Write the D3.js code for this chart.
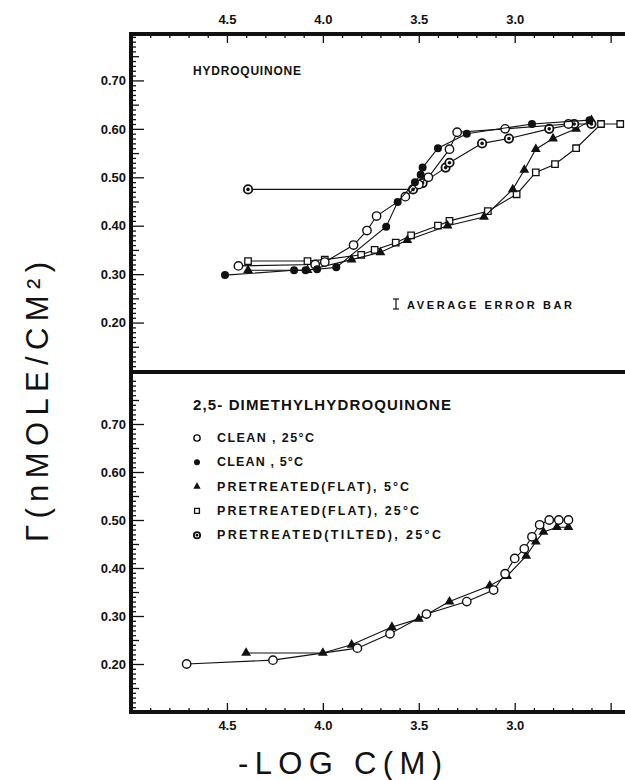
<!DOCTYPE html>
<html>
<head>
<meta charset="utf-8">
<script src="https://cdn.jsdelivr.net/npm/d3@7"></script>
<style>
  body { margin: 0; background: #fff; }
  text { font-family: "Liberation Sans", Arial, sans-serif; fill: #111; }
</style>
</head>
<body>
<div id="chart"></div>
<script>
// ---- data (x = -log C(M), y = surface excess in nmol/cm2) ----
// Hydroquinone panel
const hqClean25 = [[4.44,0.317],[4.04,0.320],[3.99,0.325],[3.84,0.360],[3.77,0.390],[3.72,0.420],[3.57,0.460],[3.50,0.485],[3.45,0.500],[3.34,0.558],[3.30,0.593],[3.05,0.600],[2.72,0.610]];
const hqClean5 = [[4.51,0.298],[4.15,0.308],[4.09,0.308],[4.03,0.310],[3.93,0.314],[3.67,0.398],[3.61,0.449],[3.52,0.490],[3.49,0.505],[3.48,0.520],[3.40,0.560],[3.25,0.590],[2.91,0.610],[2.61,0.618]];
const hqFlat5 = [[4.39,0.308],[4.08,0.308],[3.85,0.330],[3.70,0.345],[3.56,0.370],[3.35,0.400],[3.16,0.418],[3.01,0.475],[2.95,0.515],[2.89,0.558],[2.80,0.580],[2.68,0.600],[2.60,0.618]];
const hqFlat25 = [[4.39,0.327],[4.08,0.327],[3.99,0.330],[3.80,0.340],[3.73,0.350],[3.62,0.365],[3.54,0.380],[3.40,0.400],[3.34,0.410],[3.14,0.430],[2.99,0.465],[2.89,0.510],[2.79,0.527],[2.68,0.560],[2.55,0.610],[2.45,0.610]];
const hqTilted25 = [[4.39,0.475],[3.53,0.475],[3.48,0.488],[3.36,0.520],[3.34,0.530],[3.17,0.570],[3.03,0.580],[2.82,0.600],[2.69,0.610],[2.60,0.610]];

// 2,5-dimethylhydroquinone panel
const dmClean25 = [[4.71,0.200],[4.26,0.208],[3.82,0.233],[3.65,0.263],[3.46,0.304],[3.25,0.330],[3.11,0.354],[3.05,0.388],[3.00,0.420],[2.95,0.440],[2.91,0.465],[2.87,0.490],[2.82,0.500],[2.77,0.500],[2.72,0.500]];
const dmFlat5 = [[4.40,0.223],[4.00,0.223],[3.85,0.240],[3.64,0.277],[3.50,0.294],[3.34,0.330],[3.13,0.363],[3.04,0.383],[2.94,0.425],[2.89,0.455],[2.85,0.475],[2.78,0.485],[2.72,0.485]];

const xLabels = [4.5, 4.0, 3.5, 3.0];
const yLabels = [0.20, 0.30, 0.40, 0.50, 0.60, 0.70];
const legendItems = ["CLEAN , 25°C", "CLEAN , 5°C", "PRETREATED(FLAT), 5°C", "PRETREATED(FLAT), 25°C", "PRETREATED(TILTED), 25°C"];
const legendWidths = [97, 86, 192, 202, 224];
const legendMarks = ["open", "filled", "tri", "square", "tilted"];

// ---- layout ----
const W = 625, H = 780;
const svg = d3.select("#chart").append("svg")
    .attr("width", W)
    .attr("height", H);

const x = d3.scaleLinear().domain([5.0, 2.3]).range([131, 649]);
const yTop = d3.scaleLinear().domain([0.10, 0.80]).range([371, 32]);
const yBot = d3.scaleLinear().domain([0.10, 0.80]).range([712, 376]);

// ---- ticks ----
function yTicks(y) {
    const g = svg.append("g").attr("transform", "translate(131,0)");
    const minor = d3.range(11, 80).map(d => d / 100);
    g.append("g").call(d3.axisRight(y).tickValues(minor.filter(d => Math.round(d * 100) % 5 !== 0)).tickSize(5).tickFormat(""));
    g.append("g").call(d3.axisRight(y).tickValues([0.15, 0.25, 0.35, 0.45, 0.55, 0.65, 0.75]).tickSize(8).tickFormat(""));
    g.append("g").call(d3.axisLeft(y).tickValues(yLabels).tickSizeInner(-13).tickSizeOuter(0).tickPadding(5).tickFormat(d3.format(".2f")));
    g.selectAll(".domain").remove();
    g.selectAll("line").attr("stroke", "#111").attr("stroke-width", 1.3);
    g.selectAll("text").style("font-size", "13px").style("font-weight", "bold");
}
yTicks(yTop);
yTicks(yBot);

function xTicks(ypos, top) {
    const g = svg.append("g").attr("transform", `translate(0,${ypos})`);
    const axis = top ? d3.axisTop : d3.axisBottom;
    const minor = d3.range(24, 50).filter(d => d % 5 !== 0).map(d => d / 10);
    g.append("g").call(axis(x).tickValues(minor).tickSize(-4).tickFormat(""));
    g.append("g").call(axis(x).tickValues([...xLabels, 2.5]).tickSizeInner(-9).tickSizeOuter(0).tickPadding(top ? 10 : 9)
        .tickFormat(d => xLabels.includes(d) ? d3.format(".1f")(d) : ""));
    g.selectAll(".domain").remove();
    g.selectAll("line").attr("stroke", "#111").attr("stroke-width", 1.3);
    g.selectAll("text").style("font-size", "13px").style("font-weight", "bold");
}
xTicks(34, true);
xTicks(712, false);

// ---- series ----
const line = y => d3.line().x(d => x(d[0])).y(d => y(d[1]));

function drawMarks(sel, kind, px, py, s) {
    s = s || 1;
    if (kind === "open") {
        sel.append("circle").attr("cx", px).attr("cy", py).attr("r", 4.2 * s)
            .attr("fill", "#fff").attr("stroke", "#111").attr("stroke-width", 1.4);
    } else if (kind === "filled") {
        sel.append("circle").attr("cx", px).attr("cy", py).attr("r", 4 * s).attr("fill", "#111");
    } else if (kind === "tri") {
        sel.append("path").attr("transform", `translate(${px},${py})`)
            .attr("d", d3.symbol(d3.symbolTriangle, 42 * s * s)).attr("fill", "#111");
    } else if (kind === "square") {
        sel.append("path").attr("transform", `translate(${px},${py})`)
            .attr("d", d3.symbol(d3.symbolSquare, 42 * s * s))
            .attr("fill", "#fff").attr("stroke", "#111").attr("stroke-width", 1.3);
    } else if (kind === "tilted") {
        sel.append("circle").attr("cx", px).attr("cy", py).attr("r", 4.2 * s)
            .attr("fill", "#fff").attr("stroke", "#111").attr("stroke-width", 1.8);
        sel.append("circle").attr("cx", px).attr("cy", py).attr("r", 1.8 * s).attr("fill", "#111");
    }
}

function series(data, y, kind) {
    svg.append("path").datum(data)
        .attr("fill", "none").attr("stroke", "#111").attr("stroke-width", 1.1)
        .attr("d", line(y));
    const g = svg.append("g");
    data.forEach(d => drawMarks(g, kind, x(d[0]), y(d[1])));
}

series(hqFlat25, yTop, "square");
series(hqFlat5, yTop, "tri");
series(hqTilted25, yTop, "tilted");
series(hqClean25, yTop, "open");
series(hqClean5, yTop, "filled");

series(dmFlat5, yBot, "tri");
series(dmClean25, yBot, "open");

// ---- frame ----
const frame = svg.append("g").attr("stroke", "#111").attr("stroke-width", 4);
frame.append("line").attr("x1", 131).attr("x2", 131).attr("y1", 32).attr("y2", 714);
frame.append("line").attr("x1", 129).attr("x2", W).attr("y1", 34).attr("y2", 34);
frame.append("line").attr("x1", 131).attr("x2", W).attr("y1", 372).attr("y2", 372);
frame.append("line").attr("x1", 129).attr("x2", W).attr("y1", 712).attr("y2", 712);

// ---- texts ----
svg.append("text").attr("x", 193).attr("y", 75)
    .attr("textLength", 108).attr("lengthAdjust", "spacing")
    .style("font-size", "12px").style("font-weight", "bold")
    .text("HYDROQUINONE");

svg.append("text").attr("x", 193).attr("y", 410)
    .attr("textLength", 258).attr("lengthAdjust", "spacing")
    .style("font-size", "15px").style("font-weight", "bold")
    .text("2,5- DIMETHYLHYDROQUINONE");

legendItems.forEach((t, i) => {
    const yy = 442 + i * 24.3;
    drawMarks(svg, legendMarks[i], 197, yy - 4, 0.75);
    svg.append("text").attr("x", 217).attr("y", yy)
        .attr("textLength", legendWidths[i]).attr("lengthAdjust", "spacing")
        .style("font-size", "12.5px").style("font-weight", "bold")
        .text(t);
});

// average error bar
const eb = svg.append("g").attr("stroke", "#111").attr("stroke-width", 1.2);
eb.append("line").attr("x1", 396).attr("x2", 396).attr("y1", 299).attr("y2", 309);
eb.append("line").attr("x1", 393).attr("x2", 399).attr("y1", 299).attr("y2", 299);
eb.append("line").attr("x1", 393).attr("x2", 399).attr("y1", 309).attr("y2", 309);
svg.append("text").attr("x", 407).attr("y", 309)
    .attr("textLength", 165).attr("lengthAdjust", "spacing")
    .style("font-size", "11px").style("font-weight", "bold")
    .text("AVERAGE ERROR BAR");

// axis titles
svg.append("text").attr("x", 238).attr("y", 774)
    .attr("textLength", 204).attr("lengthAdjust", "spacing")
    .style("font-size", "31px")
    .text("-LOG  C(M)");

svg.append("text")
    .attr("transform", "translate(48,542) rotate(-90)")
    .attr("textLength", 280).attr("lengthAdjust", "spacing")
    .style("font-size", "31px")
    .text("Γ(nMOLE/CM²)");
</script>
</body>
</html>
